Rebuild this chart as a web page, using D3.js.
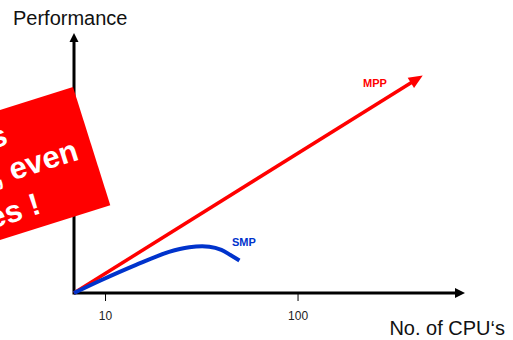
<!DOCTYPE html>
<html><head><meta charset="utf-8">
<script src="https://cdn.jsdelivr.net/npm/d3@7"></script>
<style>body{margin:0;background:#fff}svg{display:block}text{font-family:Arial,"Liberation Sans",sans-serif}</style>
</head><body>
<svg id="c" width="513" height="340"></svg>
<script>
const xTicks = [10, 100];
const xTickLabels = ["10", "100"];
const xDomain = [6.9, 741];
const yDomain = [0, 100];
const mppX = [6.9, 447];
const mppY = [0, 83.7];
const smpX = [6.9, 9.6, 14.5, 21.5, 27.4, 34.8, 40.2, 44.8, 49.9];
const smpY = [0, 5.0, 10.8, 15.8, 17.6, 17.8, 16.6, 14.6, 12.5];
const calloutLines = ["MPP scales", "linearly, even", "for many processes !"];
const xTitle = "No. of CPU‘s";
const yTitle = "Performance";

const svg = d3.select("#c");
const x = d3.scaleLog().domain(xDomain).range([74, 465]);
const y = d3.scaleLinear().domain(yDomain).range([293, 33]);

function arrowHead(g, x1, y1, x2, y2, len, wid, color) {
  const a = Math.atan2(y2 - y1, x2 - x1);
  const bx = x2 - len * Math.cos(a), by = y2 - len * Math.sin(a);
  const px = -Math.sin(a) * wid / 2, py = Math.cos(a) * wid / 2;
  g.append("path").attr("d", `M${x2},${y2}L${bx+px},${by+py}L${bx-px},${by-py}Z`).attr("fill", color);
}

// axes
const ax = svg.append("g");
const x0 = x(xDomain[0]), y0 = y(0);
ax.append("line").attr("x1", x0).attr("y1", y0).attr("x2", x(xDomain[1]) - 6).attr("y2", y0).attr("stroke", "#000").attr("stroke-width", 3);
arrowHead(ax, x0, y0, x(xDomain[1]), y0, 10, 10, "#000");
ax.append("line").attr("x1", x0).attr("y1", y0 + 1.5).attr("x2", x0).attr("y2", y(yDomain[1]) + 5).attr("stroke", "#000").attr("stroke-width", 3);
arrowHead(ax, x0, y0, x0, y(yDomain[1]), 9, 9, "#000");

const xa = svg.append("g").attr("transform", `translate(0,${y0})`)
  .call(d3.axisBottom(x).tickValues(xTicks).tickSize(8).tickPadding(10).tickFormat((d, i) => xTickLabels[i]));
xa.select(".domain").remove();
xa.selectAll(".tick line").attr("stroke", "#000").attr("stroke-width", 1);
xa.selectAll(".tick text").attr("font-size", 12).attr("fill", "#222").style("font-family", "Arial, 'Liberation Sans', sans-serif");

svg.append("text").attr("x", 13).attr("y", 25).attr("font-size", 20).attr("fill", "#111").text(yTitle);
svg.append("text").attr("x", 505).attr("y", 335).attr("text-anchor", "end").attr("font-size", 20).attr("fill", "#111").text(xTitle);

// MPP line
const mpp = mppX.map((d, i) => [x(d), y(mppY[i])]);
const mg = svg.append("g");
const aM = Math.atan2(mpp[1][1] - mpp[0][1], mpp[1][0] - mpp[0][0]);
mg.append("line").attr("x1", mpp[0][0]).attr("y1", mpp[0][1])
  .attr("x2", mpp[1][0] - 10 * Math.cos(aM)).attr("y2", mpp[1][1] - 10 * Math.sin(aM))
  .attr("stroke", "#ff0000").attr("stroke-width", 3.5);
arrowHead(mg, mpp[0][0], mpp[0][1], mpp[1][0], mpp[1][1], 14, 12, "#ff0000");
mg.append("text").attr("x", 363).attr("y", 87).attr("font-size", 11).attr("font-weight", "bold").attr("fill", "#ff0000").text("MPP");

// SMP curve
const line = d3.line().x(d => x(d[0])).y(d => y(d[1])).curve(d3.curveCatmullRom.alpha(0.5));
svg.append("path").datum(smpX.map((d, i) => [d, smpY[i]])).attr("d", line)
  .attr("fill", "none").attr("stroke", "#0033cc").attr("stroke-width", 4);
svg.append("text").attr("x", 232).attr("y", 246).attr("font-size", 11).attr("font-weight", "bold").attr("fill", "#0033cc").text("SMP");

// callout box
const cb = svg.append("g").attr("transform", "translate(73,87) rotate(-17.5)");
cb.append("rect").attr("x", -300).attr("y", 0).attr("width", 300).attr("height", 124).attr("fill", "#ff0000");
const ends = [[-78, 35], [-15, 71], [-67, 111]];
calloutLines.forEach((t, i) => {
  cb.append("text").attr("x", ends[i][0]).attr("y", ends[i][1]).attr("text-anchor", "end")
    .attr("font-size", 31).attr("font-weight", "bold").attr("fill", "#fff").text(t);
});
</script>
</body></html>
